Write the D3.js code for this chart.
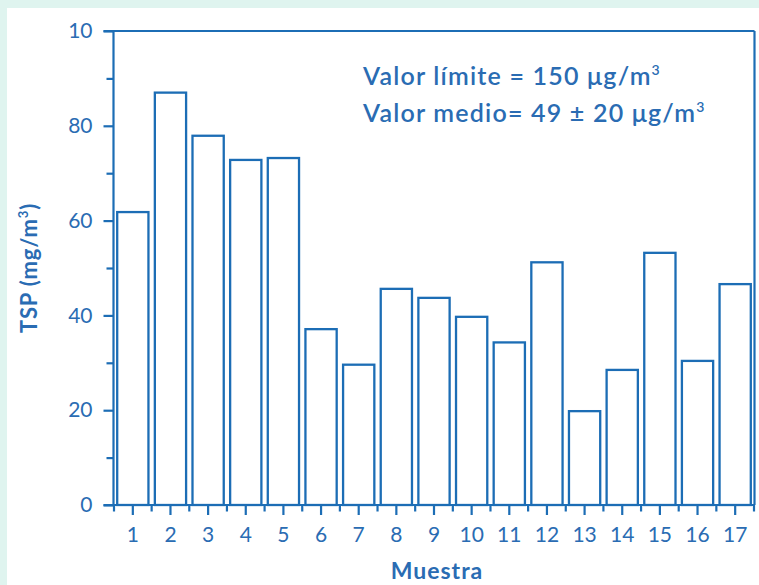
<!DOCTYPE html>
<html>
<head>
<meta charset="utf-8">
<script src="https://cdn.jsdelivr.net/npm/d3@7"></script>
<style>
  html, body { margin: 0; padding: 0; background: #dff4ef; }
  svg { display: block; }
</style>
</head>
<body>
<svg id="chart" width="759" height="585"></svg>
<script>
// Total suspended particles per sample
const categories = ["1","2","3","4","5","6","7","8","9","10","11","12","13","14","15","16","17"];
const tspValues = [61.8, 87.0, 77.9, 72.8, 73.2, 37.1, 29.6, 45.6, 43.7, 39.7, 34.3, 51.2, 19.8, 28.5, 53.2, 30.4, 46.6];
const yTickValues = [0, 10, 20, 30, 40, 50, 60, 70, 80, 90, 100];
const yTickLabels = { 0: "0", 20: "20", 40: "40", 60: "60", 80: "80", 100: "10" };
const noteLines = ["Valor límite = 150 μg/m", "Valor medio= 49 ± 20 μg/m"];

const lineColor = "#1c6db5";
const textColor = "#2a6cb3";
const font = "Lato, 'Open Sans', sans-serif";

const svg = d3.select("#chart");

// white panel
svg.append("rect").attr("x", 7).attr("y", 8).attr("width", 752).attr("height", 577).attr("fill", "#ffffff");

const x = d3.scaleBand().domain(categories).range([114, 754]).paddingInner(0.17).paddingOuter(0.085);
const y = d3.scaleLinear().domain([0, 100]).range([505, 31]);

// bars
svg.append("g").selectAll("rect").data(tspValues).join("rect")
  .attr("x", (d, i) => x(categories[i]))
  .attr("y", d => y(d))
  .attr("width", x.bandwidth())
  .attr("height", d => y(0) - y(d))
  .attr("fill", "none")
  .attr("stroke", lineColor)
  .attr("stroke-width", 2.3);

// y axis
const yAxis = svg.append("g").attr("transform", `translate(${113.5},0)`)
  .call(d3.axisLeft(y).tickValues(yTickValues).tickSize(10).tickPadding(11)
    .tickFormat(d => yTickLabels[d] || ""));
yAxis.selectAll(".tick line").attr("x2", d => (d % 20 === 0) ? -10 : -7);
yAxis.select(".domain").remove();
yAxis.append("line").attr("x1", 0).attr("x2", 0).attr("y1", y(100)).attr("y2", y(0));

// x axis: long ticks at centres, short ticks at band boundaries
const xAxis = svg.append("g").attr("transform", `translate(0,${y(0)})`)
  .call(d3.axisBottom(x).tickSize(10).tickPadding(12));
xAxis.select(".domain").remove();
const step = x.step();
const bounds = d3.range(categories.length + 1).map(i => x(categories[0]) - step * x.paddingInner() / 2 + i * step);
xAxis.selectAll(".bound").data(bounds).join("line").attr("class", "bound")
  .attr("x1", d => d).attr("x2", d => d).attr("y1", 0).attr("y2", 6.5);

// frame
const frame = svg.append("g");
frame.append("line").attr("x1", 103.5).attr("x2", 754.5).attr("y1", y(0)).attr("y2", y(0));
frame.append("line").attr("x1", 103.5).attr("x2", 754.5).attr("y1", y(100)).attr("y2", y(100));
frame.append("line").attr("x1", 754.5).attr("x2", 754.5).attr("y1", y(100)).attr("y2", y(0));

svg.selectAll("line").attr("stroke", lineColor).attr("stroke-width", 2.2);
svg.selectAll(".tick text")
  .attr("fill", textColor).style("font-family", font).style("font-size", "21px").style("font-weight", 400);

// axis titles
const yTitle = svg.append("text")
  .attr("transform", "translate(37,268) rotate(-90)")
  .attr("text-anchor", "middle")
  .attr("fill", textColor).style("font-family", font).style("font-size", "22px").style("font-weight", 700)
  .style("letter-spacing", "0.8px");
yTitle.append("tspan").text("TSP (mg/m");
yTitle.append("tspan").attr("dy", -9).style("font-size", "13px").text("3");
yTitle.append("tspan").attr("dy", 9).text(")");

svg.append("text").attr("x", 437).attr("y", 579).attr("text-anchor", "middle")
  .attr("fill", textColor).style("font-family", font).style("font-size", "23px").style("font-weight", 700)
  .style("letter-spacing", "1px")
  .text("Muestra");

// note
noteLines.forEach((t, i) => {
  const tx = svg.append("text").attr("x", 363).attr("y", 85 + i * 37)
    .attr("fill", textColor).style("font-family", font).style("font-size", "25px").style("font-weight", 600)
    .style("letter-spacing", "1.2px");
  tx.append("tspan").text(t);
  tx.append("tspan").attr("dy", -10).style("font-size", "14px").text("3");
});
</script>
</body>
</html>
